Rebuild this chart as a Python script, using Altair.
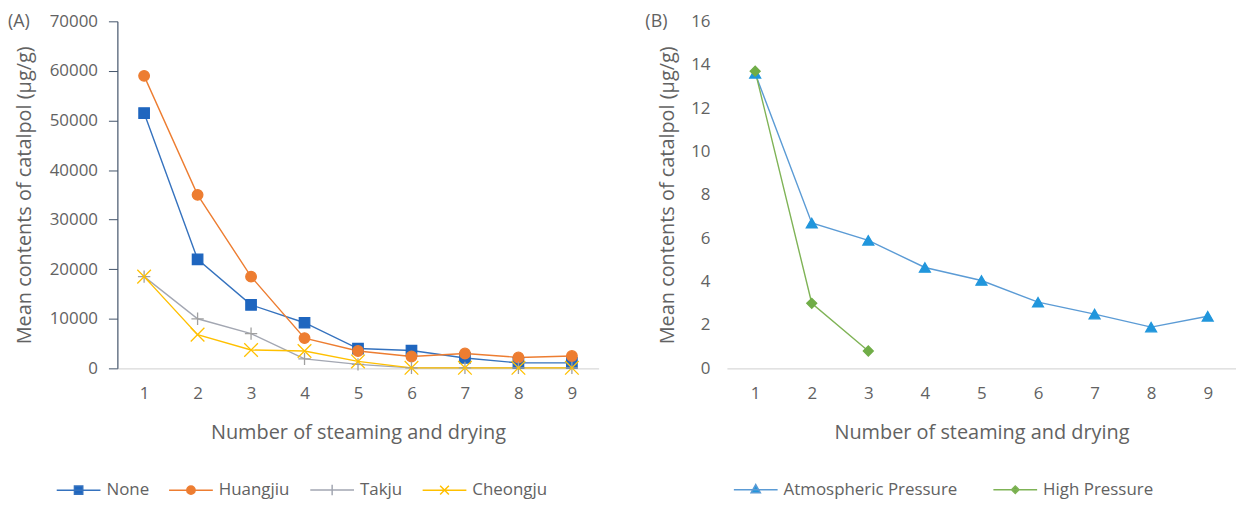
import altair as alt
import pandas as pd

# ---------------- data ----------------
steps = [1, 2, 3, 4, 5, 6, 7, 8, 9]
series_a = ["None", "Huangjiu", "Takju", "Cheongju"]
none_vals = [51500, 22000, 12800, 9200, 4000, 3600, 2100, 1100, 1100]
huangjiu_vals = [59000, 35000, 18500, 6100, 3500, 2400, 3000, 2200, 2500]
takju_vals = [18500, 10000, 7000, 1900, 800, 100, 100, 100, 100]
cheongju_vals = [18500, 6800, 3700, 3500, 1400, 100, 100, 100, 100]

series_b = ["Atmospheric Pressure", "High Pressure"]
atm_steps = [1, 2, 3, 4, 5, 6, 7, 8, 9]
atm_vals = [13.6, 6.7, 5.9, 4.65, 4.05, 3.05, 2.5, 1.9, 2.4]
high_steps = [1, 2, 3]
high_vals = [13.7, 3.0, 0.8]

y_ticks_a = [0, 10000, 20000, 30000, 40000, 50000, 60000, 70000]
y_ticks_b = [0, 2, 4, 6, 8, 10, 12, 14, 16]

# ---------------- styles ----------------
FONT = "Open Sans"
TXT = "#626262"
AXC = "#44546A"
BASE = "#D9D9D9"

line_a = ["#3572BE", "#ED7D31", "#A3A7B2", "#FFC000"]
mark_a = ["#1F66BF", "#ED7D31", "#A0A0A0", "#FFC000"]
fill_a = ["#1F66BF", "#ED7D31", "transparent", "transparent"]
shape_a = ["square", "circle", "M-1.15,0H1.15M0,-1.15V1.15",
           "M-1.25,-1.25L1.25,1.25M-1.25,1.25L1.25,-1.25"]
leg_a = ["M-1,0H1M-0.19,-0.19H0.19V0.19H-0.19Z",
         "M-1,0H1M0.19,0A0.19,0.19 0 1,1 -0.19,0A0.19,0.19 0 1,1 0.19,0Z",
         "M-1,0H1M0,-0.24V0.24",
         "M-1,0H1M-0.2,-0.2L0.2,0.2M-0.2,0.2L0.2,-0.2"]

line_b = ["#5B9BD5", "#7FB356"]
mark_b = ["#2196DC", "#70AD47"]
shape_b = ["triangle-up", "diamond"]
leg_b = ["M-1,0H1M0,-0.23L0.21,0.14H-0.21Z",
         "M-1,0H1M0,-0.17L0.17,0L0,0.17L-0.17,0Z"]

# ---------------- tables ----------------
rows_a = []
for name, vals in zip(series_a, [none_vals, huangjiu_vals, takju_vals, cheongju_vals]):
    for s, v in zip(steps, vals):
        rows_a.append({"step": s, "series": name, "value": v})
df_a = pd.DataFrame(rows_a)

rows_b = []
for s, v in zip(atm_steps, atm_vals):
    rows_b.append({"step": s, "series": series_b[0], "value": v})
for s, v in zip(high_steps, high_vals):
    rows_b.append({"step": s, "series": series_b[1], "value": v})
df_b = pd.DataFrame(rows_b)


def x_enc():
    return alt.X("step:O", scale=alt.Scale(type="point", padding=0.5, domain=steps),
                 axis=alt.Axis(title="Number of steaming and drying", labelAngle=0,
                               ticks=False, domainColor=BASE, domainWidth=1.2,
                               labelPadding=17, titlePadding=22, grid=False))


def legend(x, y, ncol, colpad):
    return alt.Legend(title=None, orient="none", legendX=x, legendY=y,
                      direction="horizontal", columns=ncol, columnPadding=colpad,
                      labelOffset=5, labelFont=FONT, labelFontSize=17,
                      labelColor=TXT, labelLimit=400, padding=0,
                      symbolSize=1936, symbolStrokeWidth=1.5)


def panel(df, series, ydomain, yticks, yaxis, lines, marks, fills, shapes, sizes,
          legpaths, leg_x, leg_y, ncol, colpad, tag, tag_x, width):
    y = alt.Y("value:Q", scale=alt.Scale(domain=ydomain, nice=False), axis=yaxis)
    base = alt.Chart(df)
    ln = base.mark_line(strokeWidth=1.4).encode(
        x=x_enc(), y=y,
        color=alt.Color("series:N", scale=alt.Scale(domain=series, range=lines), legend=None))
    pt = base.mark_point(opacity=1, strokeWidth=1.3).encode(
        x=x_enc(), y=y,
        shape=alt.Shape("series:N", scale=alt.Scale(domain=series, range=shapes), legend=None),
        stroke=alt.Stroke("series:N", scale=alt.Scale(domain=series, range=marks), legend=None),
        fill=alt.Fill("series:N", scale=alt.Scale(domain=series, range=fills), legend=None),
        size=alt.Size("series:N", scale=alt.Scale(domain=series, range=sizes), legend=None))
    lg = base.transform_filter("false").mark_point(opacity=1, strokeWidth=1.5).encode(
        shape=alt.Shape("series:N", scale=alt.Scale(domain=series, range=legpaths),
                        legend=legend(leg_x, leg_y, ncol, colpad)),
        stroke=alt.Stroke("series:N", scale=alt.Scale(domain=series, range=lines),
                          legend=legend(leg_x, leg_y, ncol, colpad)),
        fill=alt.Fill("series:N", scale=alt.Scale(domain=series, range=marks),
                      legend=legend(leg_x, leg_y, ncol, colpad)))
    tg = alt.Chart(pd.DataFrame({"t": [tag]})).mark_text(
        align="left", baseline="middle", font=FONT, fontSize=18, color=TXT
    ).encode(x=alt.value(tag_x), y=alt.value(1), text="t:N")
    return alt.layer(ln, pt, lg, tg).resolve_scale(
        shape="independent", stroke="independent", fill="independent"
    ).properties(width=width, height=349)


yaxis_a = alt.Axis(title="Mean contents of catalpol (μg/g)", values=y_ticks_a, format="d",
                   tickSize=9, tickColor=AXC, domainColor=AXC, domainWidth=1.2,
                   labelPadding=11, titlePadding=15, grid=False)
yaxis_b = alt.Axis(title="Mean contents of catalpol (μg/g)", values=y_ticks_b, format="d",
                   ticks=False, tickSize=0, domain=False,
                   labelPadding=17, titlePadding=13, grid=False)

left = panel(df_a, series_a, [0, 70000], y_ticks_a, yaxis_a, line_a, mark_a, fill_a,
             shape_a, [110, 120, 110, 110], leg_a, -62, 448, 4, 17, "(A)", -110, 484)
right = panel(df_b, series_b, [0, 16], y_ticks_b, yaxis_b, line_b, mark_b, mark_b,
              shape_b, [120, 100], leg_b, 6, 448, 2, 33, "(B)", -82, 512)

chart = alt.hconcat(left, right, spacing=47).resolve_scale(
    color="independent", shape="independent", stroke="independent",
    fill="independent", size="independent", x="independent", y="independent"
).properties(
    padding={"left": 0, "top": 3, "right": 0, "bottom": 0}
).configure_view(stroke=None).configure_axis(
    labelFont=FONT, titleFont=FONT, labelColor=TXT, titleColor=TXT,
    labelFontSize=17, titleFontSize=20, titleFontWeight="normal"
)

chart.save("out.html", embed_options={"renderer": "svg", "actions": False})
